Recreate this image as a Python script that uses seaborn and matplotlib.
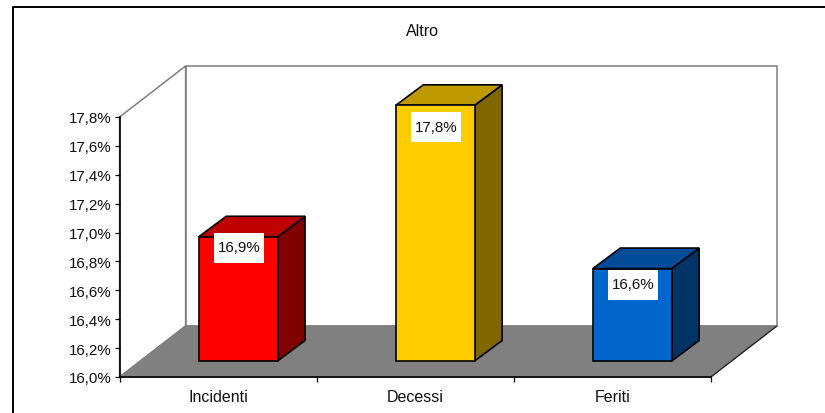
import matplotlib
matplotlib.use("Agg")
import matplotlib.pyplot as plt
from matplotlib.lines import Line2D
from matplotlib.patches import Polygon, Rectangle
from matplotlib.transforms import Affine2D, IdentityTransform
import pandas as pd
import seaborn as sns

categories = ["Incidenti", "Decessi", "Feriti"]
values = [16.86, 17.77, 16.64]
value_labels = ["16,9%", "17,8%", "16,6%"]
tick_values = [16.0, 16.2, 16.4, 16.6, 16.8, 17.0, 17.2, 17.4, 17.6, 17.8]
tick_labels = ["16,0%", "16,2%", "16,4%", "16,6%", "16,8%", "17,0%", "17,2%", "17,4%", "17,6%", "17,8%"]
front_colors = ["#FF0000", "#FFCC00", "#0066CC"]
top_colors = ["#BF0000", "#BF9900", "#004C99"]
side_colors = ["#800000", "#806600", "#003366"]
title = "Altro"

W, H = 825, 414
sns.set_theme(style="white")
plt.rcParams["font.family"] = ["Liberation Sans", "DejaVu Sans"]
FS = 10.9
FS_WORDS = 11.5
TXT = "#111111"
fig = plt.figure(figsize=(W / 100, H / 100), dpi=100)
ID = IdentityTransform()

# plot rectangle in pixels
L, R, T, B = 119.6, 710.8, 118.0, 378.0
ax = fig.add_axes([L / W, 1 - B / H, (R - L) / W, (B - T) / H])
df = pd.DataFrame({"cat": categories, "val": values})
sns.barplot(data=df, x="cat", y="val", hue="cat", palette=front_colors, legend=False,
            width=0.4, ax=ax, saturation=1, edgecolor="black", linewidth=1.2)
ax.set_xlim(-0.5, 2.5)
ax.set_ylim(16.0, 17.8)
ax.set_yticks(tick_values, tick_labels)
ax.set_xlabel("")
ax.set_ylabel("")
ax.patch.set_alpha(0)
for s in ("top", "right"):
    ax.spines[s].set_visible(False)
for s in ("left", "bottom"):
    ax.spines[s].set_color("black")
    ax.spines[s].set_linewidth(1.2)
ax.set_xticks([-0.5, 0.5, 1.5, 2.5])
ax.set_xticklabels(["", "", "", ""])
ax.tick_params(axis="both", length=3.6, width=0.9, color="black", left=True, bottom=True,
               labelsize=FS, pad=2.5, labelcolor=TXT)

to_disp = ax.transData.transform
WALL = (66, 51)      # depth of the chart box, pixels
SHIFT = (20.0, 16)   # bar position inside the box
DEPTH = (27.5, 20.5)  # depth of each bar
LABEL_DROP = [12, 23, 17]  # value box centre below the bar's top edge, pixels
BOX_W, BOX_H = 50, 30


def pt(x, y, *offsets):
    px, py = to_disp((x, y))
    for ox, oy in offsets:
        px += ox
        py += oy
    return (px, py)


def poly(points, face, edge, lw, z):
    fig.add_artist(Polygon(points, closed=True, facecolor=face, edgecolor=edge, linewidth=lw,
                           zorder=z, transform=ID, joinstyle="miter"))


# walls and floor (behind the axes)
poly([pt(-0.5, 16, WALL), pt(2.5, 16, WALL), pt(2.5, 17.8, WALL), pt(-0.5, 17.8, WALL)], "white", "#808080", 1.1, -3)
poly([pt(-0.5, 16), pt(-0.5, 16, WALL), pt(-0.5, 17.8, WALL), pt(-0.5, 17.8)], "white", "#808080", 1.1, -3)
poly([pt(-0.5, 16), pt(2.5, 16), pt(2.5, 16, WALL), pt(-0.5, 16, WALL)], "#808080", "#808080", 1, -2.5)
a, b = pt(2.5, 16), pt(2.5, 16, WALL)
fig.add_artist(Line2D([a[0], b[0]], [a[1], b[1]], color="#222222", linewidth=0.9, transform=ID, zorder=-2))

shift_tf = ax.transData + Affine2D().translate(*SHIFT)
for i, bar in enumerate(ax.patches):
    v = bar.get_height()
    bar.set_y(16.0)
    bar.set_height(v - 16.0)
    bar.set_transform(shift_tf)
    bar.set_clip_on(False)
    x0, x1 = bar.get_x(), bar.get_x() + bar.get_width()
    side = [pt(x1, 16, SHIFT), pt(x1, 16, SHIFT, DEPTH), pt(x1, v, SHIFT, DEPTH), pt(x1, v, SHIFT)]
    top = [pt(x0, v, SHIFT), pt(x1, v, SHIFT), pt(x1, v, SHIFT, DEPTH), pt(x0, v, SHIFT, DEPTH)]
    poly(side, side_colors[i], "black", 1.2, -1)
    poly(top, top_colors[i], "black", 1.2, -1)
    # value label: white box over the bar's front
    cx, cy = pt((x0 + x1) / 2, v, SHIFT, (1.0, -LABEL_DROP[i]))
    fig.add_artist(Rectangle((cx - BOX_W / 2, cy - BOX_H / 2 + 1), BOX_W, BOX_H, transform=ID,
                             facecolor="white", edgecolor="none", zorder=5))
    fig.text(cx, cy + 3, value_labels[i], transform=ID, ha="center", va="center_baseline",
             fontsize=FS, color=TXT, zorder=6)

# category labels, centred on each band
for i, c in enumerate(categories):
    px, py = pt(i, 16.0)
    fig.text(px, py - 18, c, transform=ID, ha="center", va="center_baseline", fontsize=FS_WORDS, color=TXT)

fig.text(422 / W, 1 - 30 / H, title, ha="center", va="center_baseline", fontsize=FS_WORDS, color=TXT)

# outer frame: only the top and left edges show
fig.add_artist(Line2D([12.5, 12.5, W], [0, H - 8, H - 8], transform=ID, color="black", linewidth=1.4, zorder=10))

fig.savefig("out.png", dpi=100)
